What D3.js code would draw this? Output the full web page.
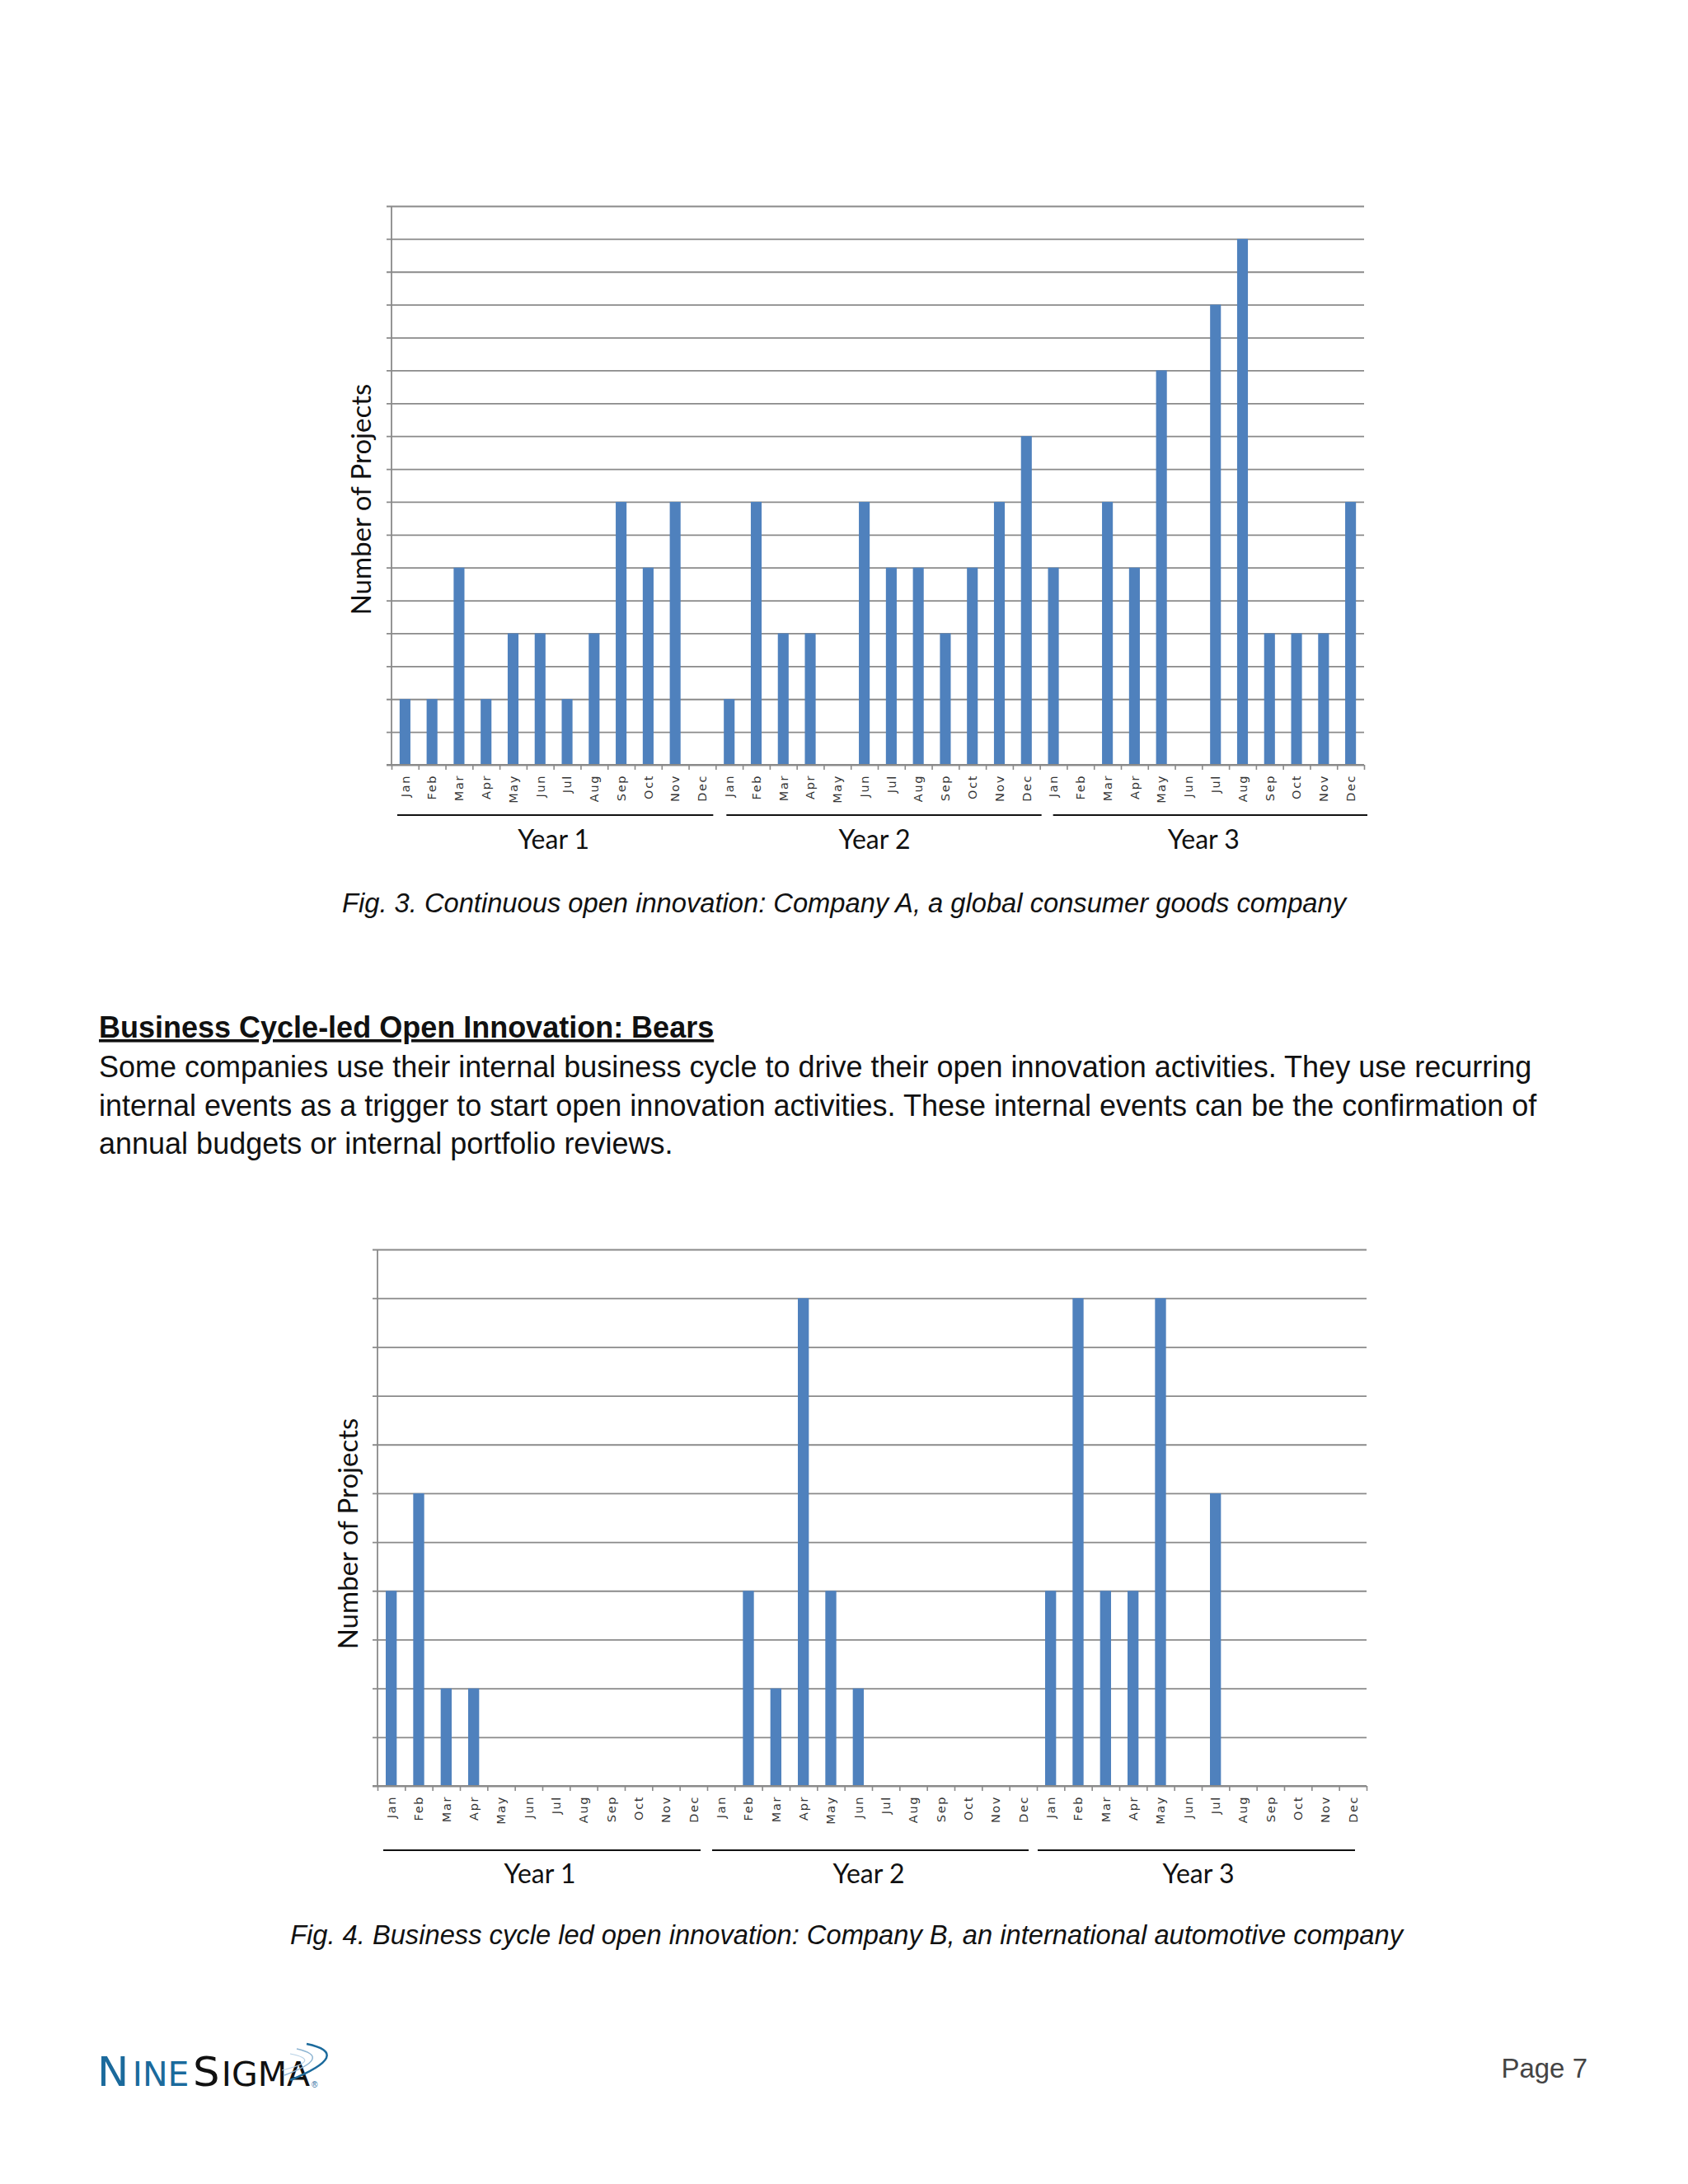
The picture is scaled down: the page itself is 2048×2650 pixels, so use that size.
<!DOCTYPE html>
<html>
<head>
<meta charset="utf-8">
<script src="https://cdn.jsdelivr.net/npm/d3@7"></script>
<style>
  html, body { margin: 0; padding: 0; background: #ffffff; }
  svg { display: block; }
</style>
</head>
<body>
<svg id="page" width="2048" height="2650"></svg>
<script>
// ---------------- DATA ----------------
const months = ["Jan","Feb","Mar","Apr","May","Jun","Jul","Aug","Sep","Oct","Nov","Dec"];
const years = ["Year 1","Year 2","Year 3"];

// Fig. 3 – Company A (counts in gridline units)
const companyAYear1 = [2,2,6,2,4,4,2,4,8,6,8,0];
const companyAYear2 = [2,8,4,4,0,8,6,6,4,6,8,10];
const companyAYear3 = [6,0,8,6,12,0,14,16,4,4,4,8];
const companyAMax = 17;

// Fig. 4 – Company B
const companyBYear1 = [4,6,2,2,0,0,0,0,0,0,0,0];
const companyBYear2 = [0,4,2,10,4,2,0,0,0,0,0,0];
const companyBYear3 = [4,10,4,4,10,0,6,0,0,0,0,0];
const companyBMax = 11;

const yTitle = "Number of Projects";
const caption3 = "Fig. 3. Continuous open innovation: Company A, a global consumer goods company";
const caption4 = "Fig. 4. Business cycle led open innovation: Company B, an international automotive company";
const heading = "Business Cycle-led Open Innovation: Bears";
const bodyLines = [
  "Some companies use their internal business cycle to drive their open innovation activities. They use recurring",
  "internal events as a trigger to start open innovation activities. These internal events can be the confirmation of",
  "annual budgets or internal portfolio reviews."
];

// ---------------- STYLE ----------------
const BAR = "#4f81bd";
const GRID = "#8a8a8a";
const svg = d3.select("#page");

function buildRows(y1, y2, y3) {
  const rows = [];
  [y1, y2, y3].forEach((arr, yi) => {
    arr.forEach((v, mi) => rows.push({ key: yi * 12 + mi, month: months[mi], year: yi, value: v }));
  });
  return rows;
}

function drawChart(cfg) {
  const rows = buildRows(...cfg.series);
  const w = cfg.right - cfg.left, h = cfg.bottom - cfg.top;
  const g = svg.append("g").attr("transform", `translate(${cfg.left},${cfg.top})`);

  const x = d3.scaleBand().domain(rows.map(d => d.key)).range([0, w]).paddingInner(0.6).paddingOuter(0.3);
  const xEdge = d3.scaleLinear().domain([0, rows.length]).range([0, w]);
  const y = d3.scaleLinear().domain([0, cfg.max]).range([h, 0]);

  // horizontal gridlines + left outer ticks
  const yAxis = g.append("g").call(
    d3.axisLeft(y).tickValues(d3.range(0, cfg.max + 1)).tickSize(-w).tickFormat("")
  );
  yAxis.selectAll(".tick line").attr("x1", -6).attr("stroke", GRID).attr("stroke-width", 1.8);
  yAxis.select(".domain").attr("stroke", GRID).attr("stroke-width", 1.8).attr("d", `M0,${h}V0`);

  // bars
  g.selectAll("rect.bar").data(rows.filter(d => d.value > 0)).join("rect")
    .attr("class", "bar")
    .attr("x", d => x(d.key))
    .attr("width", x.bandwidth())
    .attr("y", d => y(d.value))
    .attr("height", d => y(0) - y(d.value))
    .attr("fill", BAR);

  // x-axis baseline with boundary ticks
  const xAxis = g.append("g").attr("transform", `translate(0,${h})`).call(
    d3.axisBottom(xEdge).tickValues(d3.range(0, rows.length + 1)).tickSize(6).tickSizeOuter(0).tickFormat("")
  );
  xAxis.selectAll(".tick line").attr("stroke", GRID).attr("stroke-width", 1.6);
  xAxis.select(".domain").attr("stroke", GRID).attr("stroke-width", 1.8).attr("d", `M-6,0H${w}`);

  // month labels (rotated)
  g.selectAll("text.month").data(rows).join("text")
    .attr("class", "month")
    .attr("transform", d => `translate(${x(d.key) + x.bandwidth() / 2},${h + 12}) rotate(-90)`)
    .attr("text-anchor", "end")
    .attr("dy", "0.36em")
    .attr("font-family", "DejaVu Sans, Verdana, sans-serif")
    .attr("font-size", 14.5)
    .attr("letter-spacing", 1.6)
    .attr("fill", "#333")
    .text(d => d.month);

  // year group lines and labels
  years.forEach((yl, i) => {
    const x0 = xEdge(i * 12), x1 = xEdge((i + 1) * 12);
    const off = cfg.lineOff[i];
    g.append("line")
      .attr("x1", x0 + off[0]).attr("x2", x1 + off[1])
      .attr("y1", h + cfg.lineDy).attr("y2", h + cfg.lineDy)
      .attr("stroke", "#111").attr("stroke-width", 2.2);
    g.append("text")
      .attr("x", (x0 + x1) / 2 + cfg.yearOff[i]).attr("y", h + cfg.yearDy)
      .attr("text-anchor", "middle")
      .attr("font-family", "Lato, 'Open Sans', sans-serif")
      .attr("font-size", 32)
      .attr("fill", "#111")
      .text(yl);
  });

  // y title
  svg.append("text")
    .attr("transform", `translate(${cfg.titleX},${cfg.titleY}) rotate(-90)`)
    .attr("text-anchor", "middle")
    .attr("dy", "0.35em")
    .attr("font-family", "Lato, 'Open Sans', sans-serif")
    .attr("font-size", 33)
    .attr("fill", "#111")
    .text(yTitle);
}

drawChart({
  series: [companyAYear1, companyAYear2, companyAYear3], max: companyAMax,
  left: 475, right: 1655, top: 250, bottom: 928,
  lineOff: [[7, -3], [13, 2], [16, 4]], yearOff: [0, -4, 2],
  lineDy: 61, yearDy: 102, titleX: 438, titleY: 606
});

drawChart({
  series: [companyBYear1, companyBYear2, companyBYear3], max: companyBMax,
  left: 458, right: 1658, top: 1516, bottom: 2167,
  lineOff: [[7, -8], [6, -10], [1, -14]], yearOff: [-3, -4, -4],
  lineDy: 78, yearDy: 118, titleX: 422, titleY: 1861
});

// captions
const capFont = "'Liberation Sans', Arial, Helvetica, sans-serif";
svg.append("text").attr("x", 1024).attr("y", 1107).attr("text-anchor", "middle")
  .attr("font-family", capFont).attr("font-style", "italic").attr("font-size", 32.7)
  .attr("fill", "#111").text(caption3);
svg.append("text").attr("x", 1027).attr("y", 2359).attr("text-anchor", "middle")
  .attr("font-family", capFont).attr("font-style", "italic").attr("font-size", 32.7)
  .attr("fill", "#111").text(caption4);

// heading and body text
svg.append("text").attr("x", 120).attr("y", 1259)
  .attr("font-family", capFont).attr("font-weight", "bold").attr("font-size", 36)
  .attr("text-decoration", "underline").attr("fill", "#111").text(heading);
svg.selectAll("text.body").data(bodyLines).join("text")
  .attr("class", "body")
  .attr("x", 120).attr("y", (d, i) => 1307 + i * 46.5)
  .attr("font-family", capFont).attr("font-size", 36).attr("fill", "#111")
  .text(d => d);

// footer: page number
svg.append("text").attr("x", 1926).attr("y", 2521).attr("text-anchor", "end")
  .attr("font-family", capFont).attr("font-size", 33).attr("fill", "#444").text("Page 7");

// footer: logo
const logo = svg.append("g");
const lt = logo.append("text").attr("x", 118).attr("y", 2531)
  .attr("font-family", "'Liberation Sans Narrow', 'DejaVu Sans Condensed', sans-serif")
  .attr("textLength", 258).attr("lengthAdjust", "spacingAndGlyphs");
lt.append("tspan").attr("font-size", 50).attr("fill", "#1b6a9c").text("N");
lt.append("tspan").attr("font-size", 40).attr("fill", "#1b6a9c").attr("dx", 4).text("INE");
lt.append("tspan").attr("font-size", 50).attr("fill", "#111").attr("dx", 4).text("S");
lt.append("tspan").attr("font-size", 40).attr("fill", "#111").attr("dx", 2).text("IGMA");
logo.append("text").attr("x", 378).attr("y", 2533).attr("font-size", 10)
  .attr("font-family", capFont).attr("fill", "#1b6a9c").text("®");
const arc = d3.path();
arc.moveTo(372, 2480); arc.quadraticCurveTo(430, 2492, 352, 2524);
logo.append("path").attr("d", arc.toString()).attr("fill", "none").attr("stroke", "#1b6a9c").attr("stroke-width", 2.5);
const arc2 = d3.path();
arc2.moveTo(360, 2486); arc2.quadraticCurveTo(405, 2496, 345, 2518);
logo.append("path").attr("d", arc2.toString()).attr("fill", "none").attr("stroke", "#8db4d2").attr("stroke-width", 1.5);
const arc3 = d3.path();
arc3.moveTo(352, 2492); arc3.quadraticCurveTo(392, 2500, 342, 2512);
logo.append("path").attr("d", arc3.toString()).attr("fill", "none").attr("stroke", "#b9d2e6").attr("stroke-width", 1.2);
</script>
</body>
</html>
